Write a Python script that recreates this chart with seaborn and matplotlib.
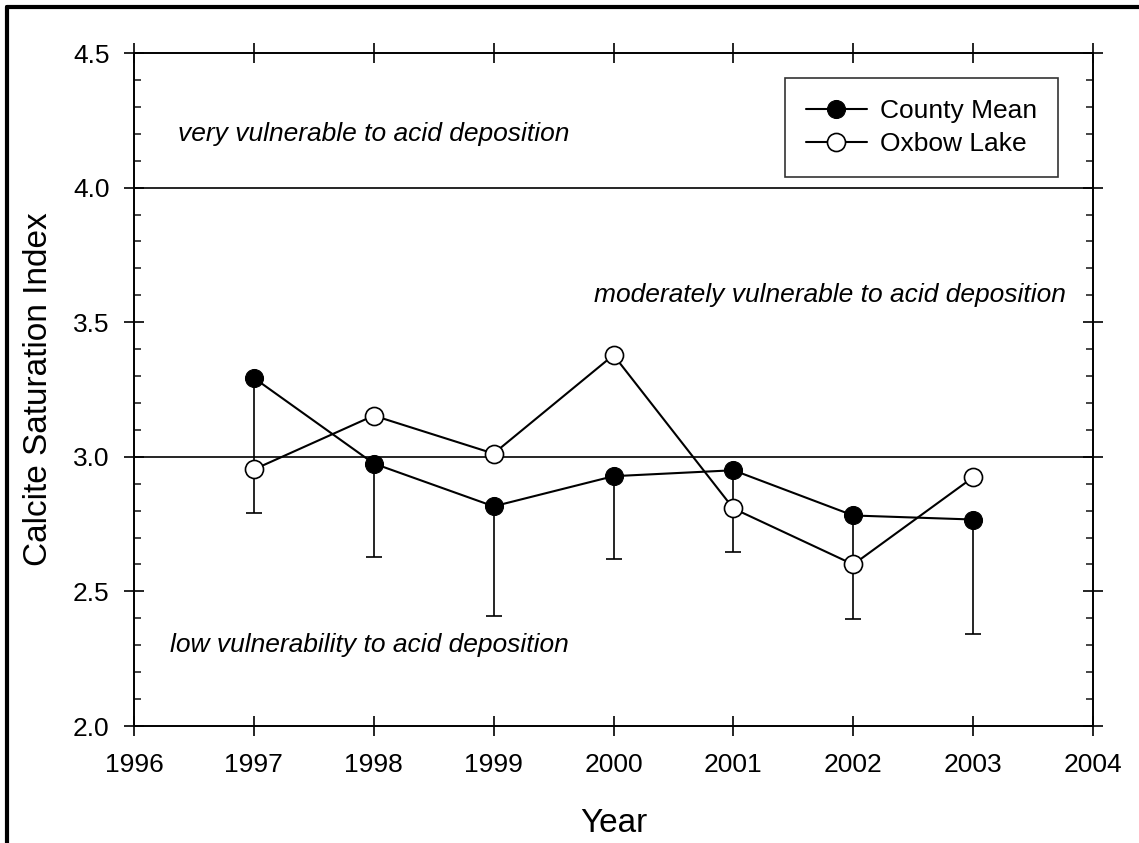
import matplotlib
matplotlib.use('Agg')
import matplotlib.pyplot as plt
import seaborn as sns
import pandas as pd
from matplotlib.ticker import MultipleLocator, FormatStrFormatter
from matplotlib.lines import Line2D

## Datos
years = [1997, 1998, 1999, 2000, 2001, 2002, 2003]
county_mean = [3.293, 2.975, 2.816, 2.928, 2.950, 2.782, 2.767]
county_lower = [2.790, 2.629, 2.410, 2.621, 2.647, 2.399, 2.343]
oxbow_lake = [2.953, 3.153, 3.012, 3.378, 2.808, 2.600, 2.924]
thresholds = [3.0, 4.0]
zone_labels = ['very vulnerable to acid deposition',
               'moderately vulnerable to acid deposition',
               'low vulnerability to acid deposition']

df = pd.DataFrame({'Year': years, 'County Mean': county_mean, 'Oxbow Lake': oxbow_lake})

sns.set_style('ticks')
plt.rcParams['font.family'] = ['Liberation Sans', 'DejaVu Sans']
plt.rcParams['text.color'] = 'black'
plt.rcParams['axes.labelcolor'] = 'black'

fig = plt.figure(figsize=(11.39, 8.43), dpi=100)
ax = fig.add_axes([134 / 1139, 1 - 726 / 843, (1093 - 134) / 1139, (726 - 53) / 843])

# marco exterior de la figura (solo visible arriba e izquierda)
fig.add_artist(Line2D([7 / 1139, 1.0], [1 - 7 / 843, 1 - 7 / 843], color='black', lw=3,
                      transform=fig.transFigure))
fig.add_artist(Line2D([7 / 1139, 7 / 1139], [0.0, 1 - 7 / 843], color='black', lw=3,
                      transform=fig.transFigure))

for t in thresholds:
    ax.axhline(t, color='black', lw=1.2, zorder=1)

# barras de error solo hacia abajo
err_down = [m - l for m, l in zip(county_mean, county_lower)]
ax.errorbar(years, county_mean, yerr=[err_down, [0] * len(years)], fmt='none',
            ecolor='black', elinewidth=1.2, capsize=6, capthick=1.2, zorder=2)

sns.lineplot(data=df, x='Year', y='County Mean', ax=ax, color='black', lw=1.5,
             marker='o', markersize=13, markerfacecolor='black', markeredgecolor='black',
             label='County Mean', zorder=3)
sns.lineplot(data=df, x='Year', y='Oxbow Lake', ax=ax, color='black', lw=1.5,
             marker='o', markersize=13, markerfacecolor='white', markeredgecolor='black',
             markeredgewidth=1.2, label='Oxbow Lake', zorder=4)

ax.set_xlim(1996, 2004)
ax.set_ylim(2.0, 4.5)
ax.xaxis.set_major_locator(MultipleLocator(1))
ax.yaxis.set_major_locator(MultipleLocator(0.5))
ax.yaxis.set_minor_locator(MultipleLocator(0.1))
ax.yaxis.set_major_formatter(FormatStrFormatter('%.1f'))
ax.tick_params(which='major', direction='inout', length=15, width=1.2, labelsize=19,
               top=True, right=True, colors='black')
ax.tick_params(axis='x', which='major', pad=12)
ax.tick_params(axis='y', which='major', pad=10)
ax.tick_params(which='minor', direction='in', length=5, width=1.2, left=True, right=True)
for s in ax.spines.values():
    s.set_color('black')
    s.set_linewidth(1.4)

ax.set_xlabel('Year', fontsize=24, labelpad=22)
ax.set_ylabel('Calcite Saturation Index', fontsize=24, labelpad=14)

ax.text(1996.37, 4.2, zone_labels[0], fontsize=19, style='italic', va='center', ha='left')
ax.text(2003.77, 3.6, zone_labels[1], fontsize=19, style='italic', va='center', ha='right')
ax.text(1996.3, 2.3, zone_labels[2], fontsize=19, style='italic', va='center', ha='left')

leg = ax.legend(loc='upper right', bbox_to_anchor=(0.9635, 0.963), fontsize=19,
                frameon=True, fancybox=False, edgecolor='black', handlelength=2.3,
                borderpad=0.8, labelspacing=0.35, handletextpad=0.5, borderaxespad=0)
leg.get_frame().set_linewidth(1.2)

fig.savefig('out.png', dpi=100)
